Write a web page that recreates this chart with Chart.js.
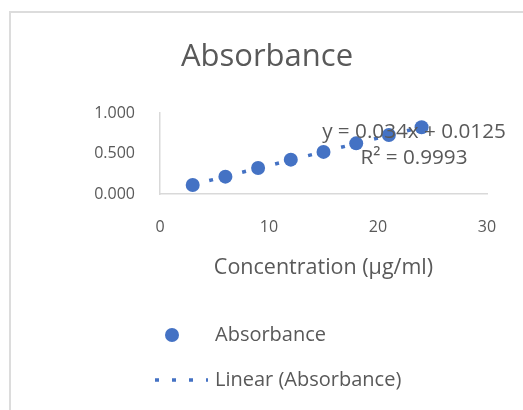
<!DOCTYPE html>
<html><head><meta charset="utf-8">
<script src="https://cdn.jsdelivr.net/npm/chart.js@4"></script>
<style>
html,body{margin:0;padding:0;background:#fff;overflow:hidden}
#wrap{position:relative;width:523px;height:410px}
#frame{position:absolute;left:9px;top:11px;right:-5px;bottom:-5px;border-left:2px solid #dcdcdc;border-top:2px solid #dcdcdc}
canvas{position:absolute;left:0;top:0}
</style></head><body>
<div id="wrap"><div id="frame"></div><canvas id="c" width="523" height="410"></canvas></div>
<script>
const chartTitle = 'Absorbance';
const seriesName = 'Absorbance';
const trendName = 'Linear (Absorbance)';
const xAxisTitle = 'Concentration (µg/ml)';
const concentration = [3, 6, 9, 12, 15, 18, 21, 24];
const absorbance = [0.112, 0.215, 0.322, 0.425, 0.521, 0.627, 0.731, 0.826];
const trendX = [3, 24];
const trendY = [0.115, 0.829];
const equationLines = ['y = 0.034x + 0.0125', 'R² = 0.9993'];
const xTicks = [0, 10, 20, 30];
const yTicks = [0, 0.5, 1];

const FONT = '"Open Sans", "DejaVu Sans", sans-serif';
const TXT = '#595959';
const BLUE = '#4472C4';

const extras = {
  id: 'extras',
  afterDraw(chart) {
    const ctx = chart.ctx, xs = chart.scales.x, ys = chart.scales.y;
    ctx.save();
    ctx.fillStyle = TXT;
    ctx.font = '20.7px ' + FONT;
    ctx.textAlign = 'center';
    ctx.textBaseline = 'middle';
    const ex = xs.getPixelForValue(23.3), ey = ys.getPixelForValue(0.765);
    ctx.fillText(equationLines[0], ex, ey);
    ctx.fillText(equationLines[1], ex, ey + 26);
    // legend
    const lx = 172, ly1 = 335, ly2 = 380, tx = 215;
    ctx.beginPath();
    ctx.fillStyle = BLUE;
    ctx.arc(lx, ly1, 7, 0, Math.PI * 2);
    ctx.fill();
    ctx.strokeStyle = BLUE;
    ctx.lineWidth = 3.5;
    ctx.setLineDash([4, 13]);
    ctx.beginPath();
    ctx.moveTo(155, ly2);
    ctx.lineTo(208, ly2);
    ctx.stroke();
    ctx.setLineDash([]);
    ctx.fillStyle = TXT;
    ctx.textAlign = 'left';
    ctx.font = '20px ' + FONT;
    ctx.fillText(seriesName, tx, ly1);
    ctx.fillText(trendName, tx, ly2);
    ctx.restore();
  }
};

new Chart(document.getElementById('c'), {
  type: 'scatter',
  data: {
    datasets: [
      {
        label: seriesName,
        data: concentration.map((x, i) => ({ x: x, y: absorbance[i] })),
        backgroundColor: BLUE, borderColor: BLUE,
        pointRadius: 7, pointHoverRadius: 7, borderWidth: 0, order: 0
      },
      {
        type: 'line',
        label: trendName,
        data: trendX.map((x, i) => ({ x: x, y: trendY[i] })),
        borderColor: BLUE, borderWidth: 3.5, borderDash: [4, 13],
        pointRadius: 0, fill: false, tension: 0, order: 1
      }
    ]
  },
  options: {
    responsive: false, animation: false, devicePixelRatio: 1,
    layout: { padding: { left: 47, right: 36, top: 0, bottom: 129 } },
    plugins: {
      legend: { display: false },
      tooltip: { enabled: false },
      title: {
        display: true, text: chartTitle, color: TXT,
        font: { family: FONT, size: 31, weight: 'normal' },
        padding: { top: 39, bottom: 37 }
      }
    },
    scales: {
      x: {
        type: 'linear', min: 0, max: 30,
        afterBuildTicks: s => { s.ticks = xTicks.map(v => ({ value: v })); },
        grid: { display: false, drawTicks: false },
        border: { display: true, color: '#d9d9d9', width: 1.5 },
        ticks: { padding: 24, color: TXT, font: { family: FONT, size: 16 } },
        title: { display: true, text: xAxisTitle, color: TXT, font: { family: FONT, size: 21.5 }, padding: 0 },
        afterFit: s => { s.height = 87; }
      },
      y: {
        type: 'linear', min: 0, max: 1,
        afterBuildTicks: s => { s.ticks = yTicks.map(v => ({ value: v })); },
        grid: { display: false, drawTicks: false },
        border: { display: true, color: '#d9d9d9', width: 1.5 },
        ticks: { padding: 25, color: TXT, font: { family: FONT, size: 16 }, callback: v => Number(v).toFixed(3) },
        afterFit: s => { s.width = 113; }
      }
    }
  },
  plugins: [extras]
});
</script>
</body></html>
